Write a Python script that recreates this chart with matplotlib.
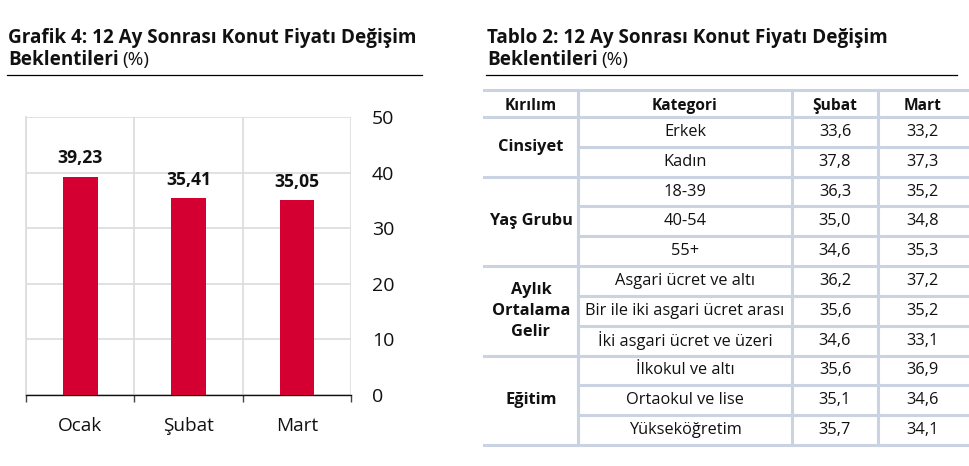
import matplotlib
matplotlib.use("Agg")
import matplotlib.pyplot as plt

plt.rcParams['font.family'] = ['Open Sans', 'DejaVu Sans']

# veri
aylar = ["Ocak", "Şubat", "Mart"]
beklenti = [39.23, 35.41, 35.05]

kirilim = ["Cinsiyet", "Yaş Grubu", "Aylık\nOrtalama\nGelir", "Eğitim"]
grup_boyu = [2, 3, 3, 3]
kategori = ["Erkek", "Kadın", "18-39", "40-54", "55+",
            "Asgari ücret ve altı", "Bir ile iki asgari ücret arası",
            "İki asgari ücret ve üzeri", "İlkokul ve altı",
            "Ortaokul ve lise", "Yükseköğretim"]
subat = [33.6, 37.8, 36.3, 35.0, 34.6, 36.2, 35.6, 34.6, 35.6, 35.1, 35.7]
mart = [33.2, 37.3, 35.2, 34.8, 35.3, 37.2, 35.2, 33.1, 36.9, 34.6, 34.1]
basliklar = ["Kırılım", "Kategori", "Şubat", "Mart"]

W, H = 970, 466
fig = plt.figure(figsize=(W / 100, H / 100), dpi=100)

# tam sayfa eksen (piksel koordinatlari)
bg = fig.add_axes([0, 0, 1, 1])
bg.set_xlim(0, W)
bg.set_ylim(H, 0)
bg.axis("off")

def tr(v, nd):
    return f"{v:.{nd}f}".replace(".", ",")

# basliklar
renderer = fig.canvas.get_renderer()
for x0, x1, ad in [(8, 422, "Grafik 4"), (487, 957, "Tablo 2")]:
    bg.text(x0, 43, ad + ": 12 Ay Sonrası Konut Fiyatı Değişim",
            fontsize=13.6, fontweight="bold", va="baseline", color="#111111")
    t = bg.text(x0, 65, "Beklentileri", fontsize=13.6, fontweight="bold",
                va="baseline", color="#111111")
    bb = t.get_window_extent(renderer)
    bg.text(bb.x1 + 4, 65, "(%)", fontsize=13.6, va="baseline",
            color="#111111", transform=matplotlib.transforms.blended_transform_factory(
                matplotlib.transforms.IdentityTransform(), bg.transData))
    bg.plot([x0 - 1, x1], [75, 75], color="black", lw=0.9)

# grafik
ax = fig.add_axes([26 / W, (H - 395) / H, (351 - 26) / W, (395 - 117) / H])
x = range(len(aylar))
ax.bar(x, beklenti, width=0.32, color="#d40032", zorder=3)
for i, v in zip(x, beklenti):
    ax.text(i, v + 1.7, tr(v, 2), ha="center", va="bottom",
            fontsize=12.6, fontweight="bold", color="#111111")
ax.set_xlim(-0.5, len(aylar) - 0.5)
ax.set_ylim(0, 50)
ax.set_yticks(range(0, 51, 10))
ax.yaxis.tick_right()
ax.tick_params(axis="y", length=0, pad=15, labelsize=14, labelcolor="#111111")
ax.grid(axis="y", color="#dcdcdc", lw=1.2, zorder=0)
ax.set_xticks(list(x))
ax.set_xticklabels(aylar)
ax.tick_params(axis="x", which="major", length=0, pad=15.5, labelsize=13.7,
               labelcolor="#111111")
ax.set_xticks([i - 0.5 for i in range(len(aylar) + 1)], minor=True)
ax.tick_params(axis="x", which="minor", length=5, width=1, color="#444444")
ax.grid(axis="x", which="minor", color="#dcdcdc", lw=1.2, zorder=0)
for s in ["top", "right"]:
    ax.spines[s].set_visible(False)
ax.spines["left"].set_color("#dcdcdc")
ax.spines["left"].set_linewidth(1.2)
ax.spines["bottom"].set_color("#111111")
ax.spines["bottom"].set_linewidth(1)

# tablo
lc = "#c9d3e2"
lw = 2.2
fs = 11.8
tx = [484, 578, 792, 878, 967]
y_top, y_head = 90, 117
rh = (445 - y_head) / len(kategori)
cx = [(tx[i] + tx[i + 1]) / 2 for i in range(4)]

bg.plot([tx[0], tx[-1]], [y_top, y_top], color=lc, lw=lw)
bg.plot([tx[0], tx[-1]], [y_head, y_head], color=lc, lw=lw)
for i, b in enumerate(basliklar):
    bg.text(cx[i], (y_top + y_head) / 2 + 2.5, b, ha="center", va="center",
            fontsize=11.2, fontweight="bold", color="#111111")

r = 0
for g, n in zip(kirilim, grup_boyu):
    y0 = y_head + r * rh
    bg.text(cx[0], y0 + n * rh / 2, g, ha="center", va="center", fontsize=11.8,
            fontweight="bold", color="#111111", linespacing=1.4)
    for k in range(n):
        yc = y0 + (k + 0.5) * rh
        j = r + k
        bg.text(cx[1], yc, kategori[j], ha="center", va="center",
                fontsize=fs, color="#111111")
        bg.text(cx[2], yc, tr(subat[j], 1), ha="center", va="center",
                fontsize=fs, color="#111111")
        bg.text(cx[3], yc, tr(mart[j], 1), ha="center", va="center",
                fontsize=fs, color="#111111")
        if k < n - 1:
            bg.plot([tx[1], tx[-1]], [y0 + (k + 1) * rh] * 2, color=lc, lw=lw)
    r += n
    bg.plot([tx[0], tx[-1]], [y_head + r * rh] * 2, color=lc, lw=lw)

for xv in tx[1:4]:
    bg.plot([xv, xv], [y_top, y_head + r * rh], color=lc, lw=lw)

fig.savefig("out.png", dpi=100)
